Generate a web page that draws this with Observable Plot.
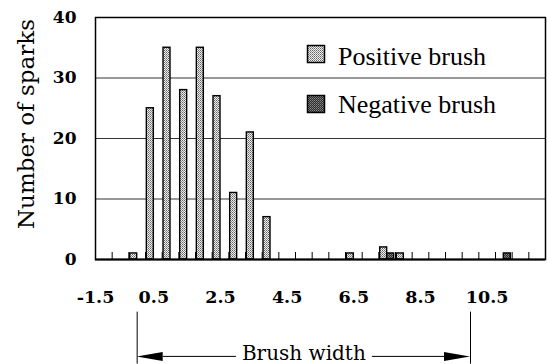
<!DOCTYPE html>
<html><head><meta charset="utf-8">
<script src="https://cdn.jsdelivr.net/npm/d3@7"></script>
<script src="https://cdn.jsdelivr.net/npm/@observablehq/plot@0.6"></script>
<style>body{margin:0;background:#fff;}</style>
</head><body><div id="chart"></div>
<script>
// Brush-width categories (step 0.5)
const categories = [-1,-0.5,0,0.5,1,1.5,2,2.5,3,3.5,4,4.5,5,5.5,6,6.5,7,7.5,8,8.5,9,9.5,10,10.5,11,11.5,12];
const positive   = [0,0,1,25,35,28,35,27,11,21,7,0,0,0,0,1,0,2,1,0,0,0,0,0,0,0,0];
const negative   = [0,0,0,0,0,0,0,0,0,0,0,0,0,0,0,0,0,1,0,0,0,0,0,0,1,0,0];
const xTickLabels = [-1.5,0.5,2.5,4.5,6.5,8.5,10.5];
const yTicks = [0,10,20,30,40];
const seriesNames = ["Positive brush","Negative brush"];
const bracket = [0,10];
const yLabel = "Number of sparks";
const xLabel = "Brush width";

const step = 0.5, bw = step * 0.42;
const posRows = [], negRows = [];
categories.forEach((c, i) => {
  if (positive[i] > 0) posRows.push({w: c, n: positive[i]});
  if (negative[i] > 0) negRows.push({w: c, n: negative[i]});
});
const boundaries = categories.slice(0, -1).map(c => c + step / 2);

const chart = Plot.plot({
  width: 547, height: 364,
  marginLeft: 95, marginRight: 2, marginTop: 17, marginBottom: 105,
  style: {fontFamily: "DejaVu Serif", background: "white", color: "black", overflow: "visible"},
  x: {domain: [categories[0] - step / 2, categories[categories.length - 1] + step / 2], clamp: true},
  y: {domain: [0, 40]},
  marks: [
    Plot.ruleY([10, 20, 30], {stroke: "#333", strokeWidth: 1}),
    Plot.rectY(posRows, {x1: d => d.w - bw, x2: d => d.w, y1: 0, y2: "n", fill: "url(#pPos)", stroke: "black", strokeWidth: 1.4}),
    Plot.rectY(negRows, {x1: d => d.w, x2: d => d.w + bw, y1: 0, y2: "n", fill: "url(#pNeg)", stroke: "black", strokeWidth: 1.4}),
    Plot.ruleX(boundaries, {y1: 0, y2: 1.15, stroke: "black", strokeWidth: 1}),
    Plot.frame({stroke: "black", strokeWidth: 1.5}),
    Plot.ruleY([0], {stroke: "black", strokeWidth: 2}),
    Plot.axisY({ticks: yTicks, tickSize: 0, tickPadding: 19, fontSize: 17, fontWeight: "bold", label: null}),
    Plot.axisX({ticks: xTickLabels, tickSize: 0, tickPadding: 31, fontSize: 17.5, fontWeight: "bold", tickFormat: d => d.toFixed(1), label: null}),
    Plot.text([yLabel], {frameAnchor: "left", textAnchor: "middle", lineAnchor: "middle", rotate: -90, dx: -69, dy: -14.5, fontSize: 23}),
    Plot.ruleX(bracket, {y1: -8.7, y2: -17.3, stroke: "black", strokeWidth: 1}),
    Plot.text([xLabel], {x: (bracket[0] + bracket[1]) / 2, y: -16.65, lineAnchor: "bottom", fontSize: 20, fill: "black", className: "xlab"})
  ]
});

const svg = d3.select(chart);
const defs = svg.insert("defs", ":first-child");
const pp = defs.append("pattern").attr("id", "pPos").attr("patternUnits", "userSpaceOnUse").attr("width", 2).attr("height", 2);
pp.append("rect").attr("width", 2).attr("height", 2).attr("fill", "#eeeeee");
pp.append("rect").attr("width", 1).attr("height", 1).attr("fill", "#666");
pp.append("rect").attr("x", 1).attr("y", 1).attr("width", 1).attr("height", 1).attr("fill", "#909090");
const pn = defs.append("pattern").attr("id", "pNeg").attr("patternUnits", "userSpaceOnUse").attr("width", 2).attr("height", 2);
pn.append("rect").attr("width", 2).attr("height", 2).attr("fill", "#2e2e2e");
pn.append("rect").attr("width", 1).attr("height", 1).attr("fill", "#8a8a8a");
pn.append("rect").attr("x", 1).attr("y", 1).attr("width", 1).attr("height", 1).attr("fill", "#6a6a6a");

// legend
const lg = svg.append("g").attr("font-family", "Liberation Serif").attr("font-size", 26).attr("text-anchor", "start");
[["url(#pPos)", 45, 65], ["url(#pNeg)", 95, 113]].forEach(([f, top, base], i) => {
  lg.append("rect").attr("x", 307.5).attr("y", top + 0.5).attr("width", 17).attr("height", 17).attr("fill", f).attr("stroke", "black").attr("stroke-width", 1.5);
  lg.append("text").attr("x", 338).attr("y", base).attr("text-anchor", "start").text(seriesNames[i]);
});

document.getElementById("chart").appendChild(chart);

// "Brush width" arrows, positioned with the chart's own scales
const sx = chart.scale("x"), sy = chart.scale("y");
const ay = sy.apply(-16.1);
const x0 = sx.apply(bracket[0]), x1 = sx.apply(bracket[1]);
const L = 26, H = 4.5, gap = 6;
const sr = chart.getBoundingClientRect();
const tr = chart.querySelector(".xlab text").getBoundingClientRect();
const tLeft = tr.left - sr.left, tRight = tr.right - sr.left;
svg.append("line").attr("x1", x0 + L).attr("x2", tLeft - gap).attr("y1", ay).attr("y2", ay).attr("stroke", "black");
svg.append("line").attr("x1", tRight + gap).attr("x2", x1 - L).attr("y1", ay).attr("y2", ay).attr("stroke", "black");
svg.append("path").attr("d", `M${x0},${ay}L${x0 + L},${ay - H}L${x0 + L},${ay + H}Z`).attr("fill", "black");
svg.append("path").attr("d", `M${x1},${ay}L${x1 - L},${ay - H}L${x1 - L},${ay + H}Z`).attr("fill", "black");
</script></body></html>
